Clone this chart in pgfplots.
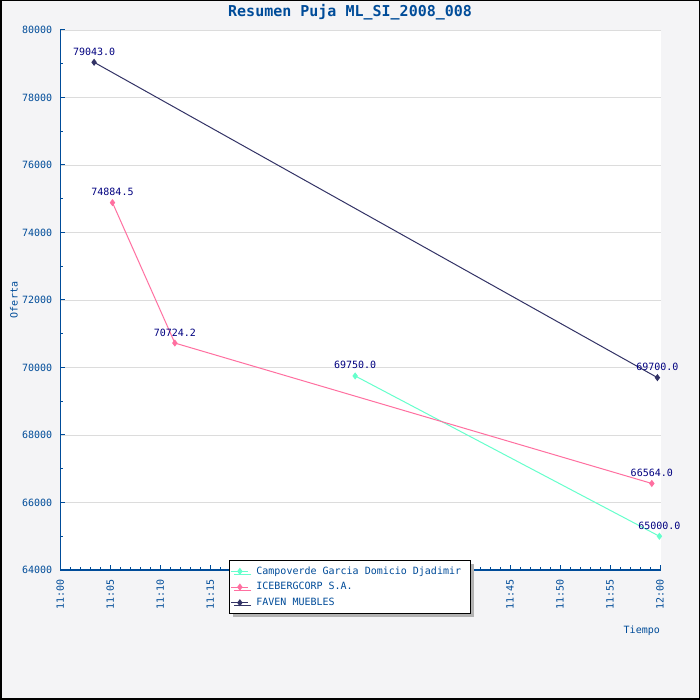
\documentclass[border=0pt]{standalone}
\usepackage{fontspec}
\setmainfont{DejaVu Sans Mono}
\usepackage{pgfplots}
\pgfplotsset{compat=1.18}
\usetikzlibrary{shadows}
\definecolor{bg}{HTML}{F4F4F6}
\definecolor{axblue}{HTML}{004C99}
\definecolor{lblnavy}{HTML}{000080}
\definecolor{cAqua}{HTML}{66FFCC}
\definecolor{cPink}{HTML}{FF6FA0}
\definecolor{cNavy}{HTML}{333366}
\definecolor{gridc}{HTML}{DCDCDC}
\begin{document}
\begin{tikzpicture}[x=1pt,y=1pt]
\useasboundingbox (0,0) rectangle (700,700);
\fill[bg] (0,0) rectangle (700,700);
\begin{axis}[
  at={(60.3pt,130pt)}, anchor=south west,
  scale only axis, width=600.7pt, height=540pt,
  xmin=0, xmax=60.1, ymin=64000, ymax=80000,
  clip=false,
  axis background/.style={fill=white},
  axis x line*=bottom, axis y line*=left,
  axis line style={axblue, line width=1.5pt},
  /pgf/number format/assume math mode=true,
  /pgf/number format/1000 sep={},
  scaled y ticks=false,
  xtick={0,5,...,60},
  xticklabels={11:00,11:05,11:10,11:15,11:20,11:25,11:30,11:35,11:40,11:45,11:50,11:55,12:00},
  minor x tick num=4,
  ytick={64000,66000,...,80000},
  minor y tick num=1,
  tick align=inside,
  major tick length=5pt, minor tick length=3pt,
  tick style={axblue, line width=1pt},
  ymajorgrids, grid style={gridc, line width=0.8pt},
  x tick label style={rotate=90, anchor=east, font=\fontsize{10}{12}\selectfont, text=axblue},
  y tick label style={font=\fontsize{10}{12}\selectfont, text=axblue},
  xticklabel shift=6pt,
  yticklabel shift=4.5pt,
  every axis title shift=0pt,
  title={Resumen Puja ML\_SI\_2008\_008},
  title style={at={(axis description cs:0.4824,1.0324)}, anchor=center, font=\bfseries\fontsize{15}{18}\selectfont, text=axblue},
  ylabel={Oferta},
  ylabel style={at={(axis description cs:-0.0771,0.5)}, rotate=0, anchor=center, font=\fontsize{10}{12}\selectfont, text=axblue},
  xlabel={Tiempo},
  xlabel style={at={(axis description cs:0.968,-0.113)}, anchor=center, font=\fontsize{10}{12}\selectfont, text=axblue},
  legend style={at={(axis description cs:0.2814,0.0185)}, anchor=north west,
    draw=black, line width=1pt, fill=white,
    drop shadow={shadow xshift=3pt, shadow yshift=-3pt, fill=black!30, opacity=1},
    font=\fontsize{10}{12}\selectfont, text=axblue,
    inner xsep=1pt, inner ysep=3pt,
    nodes={text height=8pt, text depth=2.5pt, inner ysep=2.6pt}},
  legend cell align=left,
  every node near coord/.append style={font=\fontsize{10}{12}\selectfont, text=lblnavy, anchor=base, yshift=7pt, inner sep=0pt},
]
\addplot[cAqua, line width=1pt, mark=diamond*, mark size=2.8pt, mark options={solid, fill=cAqua},
  nodes near coords, point meta=explicit symbolic]
  coordinates {(29.5,69750)[69750.0] (59.94,65000)[65000.0]};
\addlegendentry{\makebox[217pt][l]{\hspace*{5.5pt}Campoverde Garcia Domicio Djadimir}}
\addplot[cPink, line width=1pt, mark=diamond*, mark size=2.8pt, mark options={solid, fill=cPink},
  nodes near coords, point meta=explicit symbolic]
  coordinates {(5.22,74884.5)[74884.5] (11.46,70724.2)[70724.2] (59.18,66564)[66564.0]};
\addlegendentry{\makebox[217pt][l]{\hspace*{5.5pt}ICEBERGCORP S.A.}}
\addplot[cNavy, line width=1pt, mark=diamond*, mark size=2.8pt, mark options={solid, fill=cNavy},
  nodes near coords, point meta=explicit symbolic]
  coordinates {(3.38,79043)[79043.0] (59.74,69700)[69700.0]};
\addlegendentry{\makebox[217pt][l]{\hspace*{5.5pt}FAVEN MUEBLES}}
\end{axis}
\draw[black, line width=1.5pt] (0.75,0.75) rectangle (699.25,699.25);
\end{tikzpicture}
\end{document}
